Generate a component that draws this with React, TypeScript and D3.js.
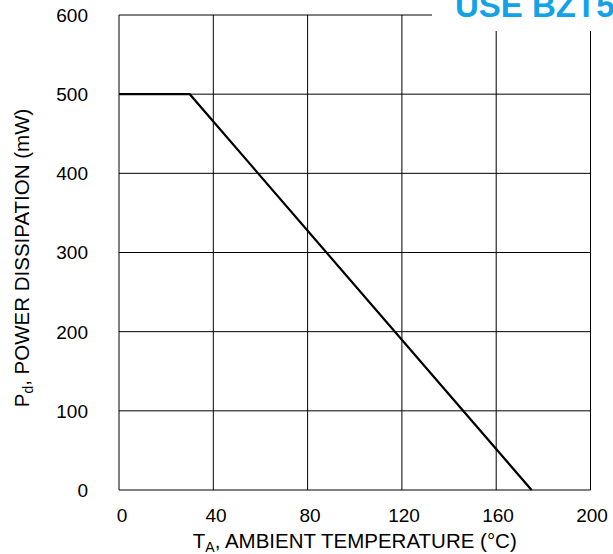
import React from "react";
import * as d3 from "d3";

const xTicks = [0, 40, 80, 120, 160, 200];
const yTicks = [0, 100, 200, 300, 400, 500, 600];
const curveTemp = [0, 30, 175];
const curvePower = [500, 500, 0];
const titleText = "USE BZT52C SERIES";

const W = 613;
const H = 554;
const left = 119;
const right = 590.5;
const top = 15;
const bottom = 490;

export default function App() {
  const x = d3.scaleLinear().domain([0, 200]).range([left, right]);
  const y = d3.scaleLinear().domain([0, 600]).range([bottom, top]);
  const xl = d3.scaleLinear().domain([0, 200]).range([122, 592]);
  const line = d3
    .line<number>()
    .x((_, i) => x(curveTemp[i]))
    .y((d) => y(d));
  const font = "Arial, 'Liberation Sans', Helvetica, sans-serif";
  return (
    <svg
      width={W}
      height={H}
      style={{ position: "absolute", left: 0, top: 0, background: "#fff" }}
      fontFamily={font}
    >
      <rect x={0} y={0} width={W} height={H} fill="#fff" />
      {xTicks.map((t) => (
        <line key={"gx" + t} x1={x(t)} x2={x(t)} y1={top} y2={bottom} stroke="#000" strokeWidth={1} />
      ))}
      {yTicks.map((t) => (
        <line key={"gy" + t} x1={left} x2={right} y1={y(t)} y2={y(t)} stroke="#000" strokeWidth={1} />
      ))}
      <path d={line(curvePower) || ""} fill="none" stroke="#000" strokeWidth={2.2} />
      {yTicks.map((t) => (
        <text key={"ly" + t} x={88} y={y(t)} dy="0.36em" textAnchor="end" fontSize={19} fill="#000">
          {t}
        </text>
      ))}
      {xTicks.map((t) => (
        <text key={"lx" + t} x={xl(t)} y={522} textAnchor="middle" fontSize={19} fill="#000">
          {t}
        </text>
      ))}
      <text x={(left + right) / 2} y={548} textAnchor="middle" fontSize={20.5} fill="#000">
        T<tspan fontSize={14} dy={4}>A</tspan>
        <tspan dy={-4}>, AMBIENT TEMPERATURE (°C)</tspan>
      </text>
      <text
        transform={`translate(29, 258) rotate(-90)`}
        textAnchor="middle"
        fontSize={20.5}
        fill="#000"
      >
        P<tspan fontSize={14} dy={4}>d</tspan>
        <tspan dy={-4}>, POWER DISSIPATION (mW)</tspan>
      </text>
      <rect x={432} y={0} width={W - 432} height={31} fill="#fff" />
      <text x={455} y={17} fontSize={33} fontWeight="bold" fill="#12A3E6">
        {titleText}
      </text>
    </svg>
  );
}
